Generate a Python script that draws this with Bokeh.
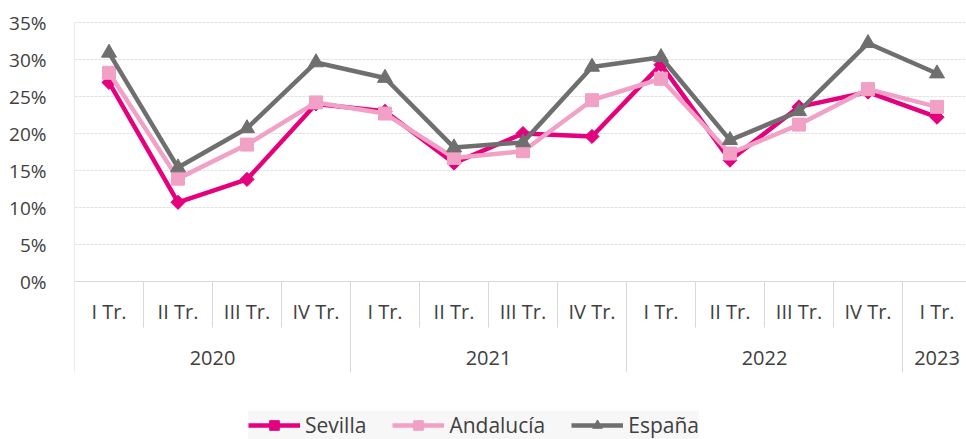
import math
from bokeh.plotting import figure
from bokeh.models import (Range1d, FixedTicker, PrintfTickFormatter, ColumnDataSource,
                          Legend, LegendItem)
from bokeh.core.properties import value
from bokeh.embed import file_html
from bokeh.resources import INLINE

# ---------------- data ----------------
quarters = ["I Tr.", "II Tr.", "III Tr.", "IV Tr.",
            "I Tr.", "II Tr.", "III Tr.", "IV Tr.",
            "I Tr.", "II Tr.", "III Tr.", "IV Tr.",
            "I Tr."]
years = ["2020", "2021", "2022", "2023"]
year_counts = [4, 4, 4, 1]

sevilla = [26.9, 10.7, 13.8, 24.0, 23.0, 16.0, 20.0, 19.6, 29.3, 16.4, 23.6, 25.6, 22.2]
andalucia = [28.2, 13.9, 18.5, 24.2, 22.7, 16.7, 17.6, 24.5, 27.4, 17.3, 21.2, 26.0, 23.6]
espana = [30.9, 15.4, 20.7, 29.6, 27.5, 18.1, 18.8, 29.0, 30.3, 19.1, 23.0, 32.2, 28.1]

y_ticks = [0, 5, 10, 15, 20, 25, 30, 35]

# ---------------- style ----------------
FONT = "Open Sans"
TEXT = "#404040"
C_SEV = "#E5007E"
C_AND = "#F1A1C6"
C_ESP = "#6F6F6F"
SEP = "#d9d9d9"

W, H = 966, 439
LEFT = 74
SLOT = 69.0          # px per category
PXU = 7.4            # px per 1 %
ZERO = 281           # px from top of figure to 0 %

x_end = (W - LEFT) / SLOT
y_top = ZERO / PXU
y_bot = -(H - ZERO) / PXU

q_label_y = -30 / PXU
y_label_y = -76 / PXU
short_sep = -46 / PXU
long_sep = -91 / PXU

p = figure(width=W, height=H, x_range=Range1d(0, x_end), y_range=Range1d(y_bot, y_top),
           output_backend="svg", toolbar_location=None, x_axis_location=None,
           min_border_left=LEFT, min_border_right=0, min_border_top=0, min_border_bottom=0,
           outline_line_color=None, background_fill_color="white")

# y axis
ax = p.yaxis[0]
ax.ticker = FixedTicker(ticks=y_ticks)
ax.formatter = PrintfTickFormatter(format="%d%%")
ax.axis_line_color = None
ax.major_tick_line_color = None
ax.minor_tick_line_color = None
ax.major_label_standoff = 22
ax.major_label_text_font = FONT
ax.major_label_text_font_size = "19px"
ax.major_label_text_color = TEXT

p.ygrid.ticker = FixedTicker(ticks=y_ticks[1:])
p.ygrid.grid_line_color = "#e2e2e2"
p.ygrid.grid_line_dash = "3 1"
for g in p.xgrid:
    g.visible = False

# zero line
p.segment(x0=[0], y0=[y_ticks[0]], x1=[x_end], y1=[y_ticks[0]], line_color=SEP, line_width=1.2)

# separators
n = len(quarters)
bounds = set()
acc = 0
for c in year_counts:
    acc += c
    bounds.add(acc)
sx, sy0, sy1 = [0], [y_ticks[-1]], [long_sep]
for k in range(1, n + 1):
    sx.append(k)
    sy0.append(y_ticks[0])
    sy1.append(long_sep if k in bounds else short_sep)
p.segment(x0=sx, y0=sy0, x1=sx, y1=sy1, line_color=SEP, line_width=1)

# category labels
xs = [i + 0.5 for i in range(n)]
p.text(x=xs, y=[q_label_y] * n, text=quarters, text_align="center", text_baseline="middle",
       text_font=value(FONT), text_font_size="20px", text_color=TEXT)

yx = []
acc = 0
for c in year_counts:
    yx.append(acc + c / 2)
    acc += c
p.text(x=yx, y=[y_label_y] * len(years), text=years, text_align="center", text_baseline="middle",
       text_font=value(FONT), text_font_size="20px", text_color=TEXT)

# series
src = ColumnDataSource(dict(x=xs, sev=sevilla, anda=andalucia, esp=espana))
l1 = p.line("x", "sev", source=src, line_color=C_SEV, line_width=4.5)
m1 = p.scatter("x", "sev", source=src, marker="square", angle=math.pi / 4, size=10,
               fill_color=C_SEV, line_color=C_SEV)
l2 = p.line("x", "anda", source=src, line_color=C_AND, line_width=4.5)
m2 = p.scatter("x", "anda", source=src, marker="square", size=13,
               fill_color=C_AND, line_color=C_AND)
l3 = p.line("x", "esp", source=src, line_color=C_ESP, line_width=4.5)
m3 = p.scatter("x", "esp", source=src, marker="triangle", size=15,
               fill_color=C_ESP, line_color=C_ESP)

legend = Legend(items=[LegendItem(label="Sevilla", renderers=[l1, m1]),
                       LegendItem(label="Andalucía", renderers=[l2, m2]),
                       LegendItem(label="España", renderers=[l3, m3])],
                orientation="horizontal", location=(174, 0),
                glyph_width=52, glyph_height=24, label_standoff=5, spacing=26,
                padding=4, margin=0,
                background_fill_color="#f7f7f7", background_fill_alpha=1.0,
                border_line_color=None,
                label_text_font=FONT, label_text_font_size="21px", label_text_color=TEXT)
p.add_layout(legend)

open("out.html", "w").write(file_html(p, INLINE))
